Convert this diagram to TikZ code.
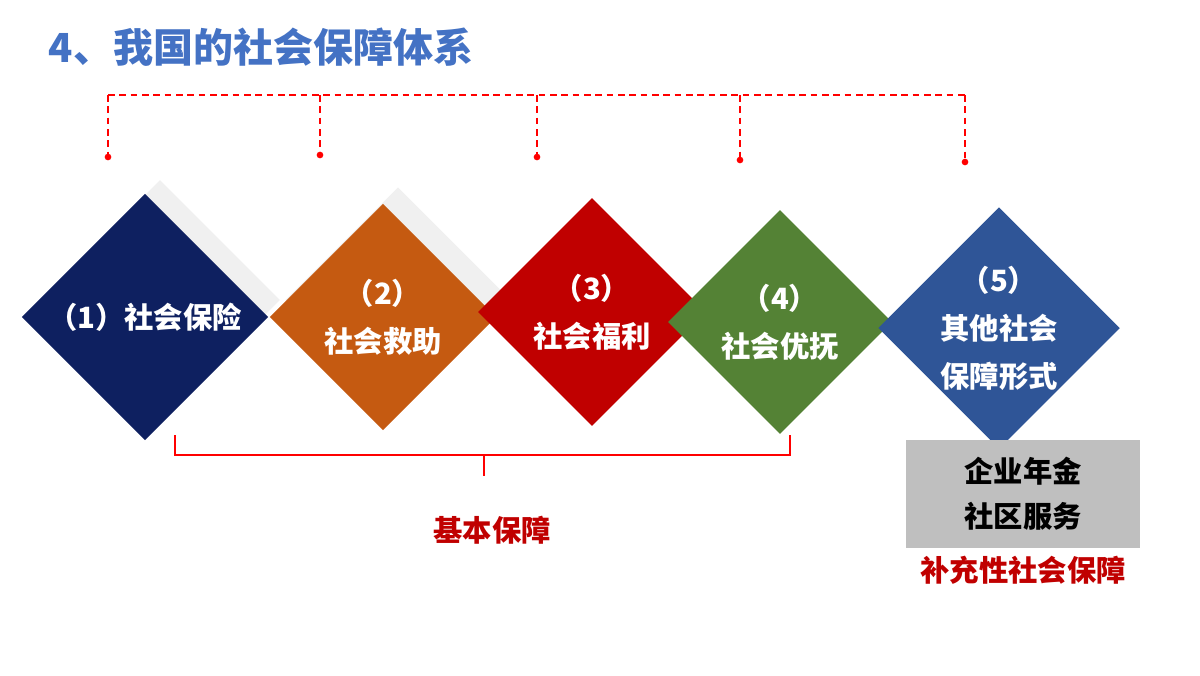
\documentclass[tikz,border=0pt]{standalone}
\usepackage{fontspec}
\setmainfont{Noto Sans CJK SC}
\usetikzlibrary{shapes.geometric, positioning}
\definecolor{navy}{RGB}{14,32,96}
\definecolor{rust}{RGB}{197,90,17}
\definecolor{darkred}{RGB}{192,0,0}
\definecolor{leaf}{RGB}{84,130,53}
\definecolor{steel}{RGB}{47,85,151}
\definecolor{titleblue}{RGB}{68,114,196}
\tikzset{
  dia/.style={diamond, aspect=1, inner sep=0pt, text=white, align=center, font=\bfseries\fontsize{22}{36}\selectfont},
  back/.style={diamond, aspect=1, inner sep=0pt, fill=gray!12},
  link/.style={draw=red, line width=1.2pt, dash pattern=on 5pt off 3.5pt},
  dot/.style={circle, fill=red, inner sep=0pt, minimum size=5pt},
  note/.style={text=darkred, font=\bfseries\fontsize{22}{26}\selectfont}
}
\begin{document}
\begin{tikzpicture}[x=0.75pt,y=-0.75pt]
\useasboundingbox (0,0) rectangle (1200,675);
% title
\node[anchor=west, text=titleblue, font=\bfseries\fontsize{30}{32}\selectfont] (title) at (44,47) {4、我国的社会保障体系};
% shadows
\node[back, minimum size=180pt] (s1) at (160,300) {};
\node[back, minimum size=169pt] (s2) at (398,300) {};
% diamonds
\node[dia, fill=navy, minimum size=185pt] (d1) at (145,317) {（1）社会保险};
\node[dia, fill=rust, minimum size=170pt] (d2) at (383,317) {（2）\\社会救助};
\node[dia, fill=darkred, minimum size=171pt] (d3) at (592,312) {（3）\\社会福利};
\node[dia, fill=leaf, minimum size=168pt] (d4) at (780,322) {（4）\\社会优抚};
\node[dia, fill=steel, minimum size=176pt] (d5) at (999,328) {（5）\\其他社会\\保障形式};
% dashed links
\coordinate (t1) at (108,95);
\coordinate (t5) at (965,95);
\draw[link] (t1) -- (t5);
\foreach \x/\y [count=\i] in {108/157,320/155,537/157,740/160,965/162} {
  \draw[link] (\x,95) -- (\x,\y);
  \node[dot] (p\i) at (\x,\y) {};
}
% brace
\coordinate (b1) at (175,435);
\coordinate (b2) at (790,435);
\coordinate (bm) at (484,455);
\draw[red, line width=1pt] (b1) -- (175,455) -- (790,455) -- (b2);
\draw[red, line width=1pt] (bm) -- (484,476);
\node[note] (basic) at (492,530) {基本保障};
% supplementary
\node[fill=gray!50, minimum width=175pt, minimum height=81pt, align=center, font=\bfseries\fontsize{22}{34}\selectfont] (box) at (1023,494) {企业年金\\社区服务};
\node[note, below=2pt of box] (extra) {补充性社会保障};
\end{tikzpicture}
\end{document}
